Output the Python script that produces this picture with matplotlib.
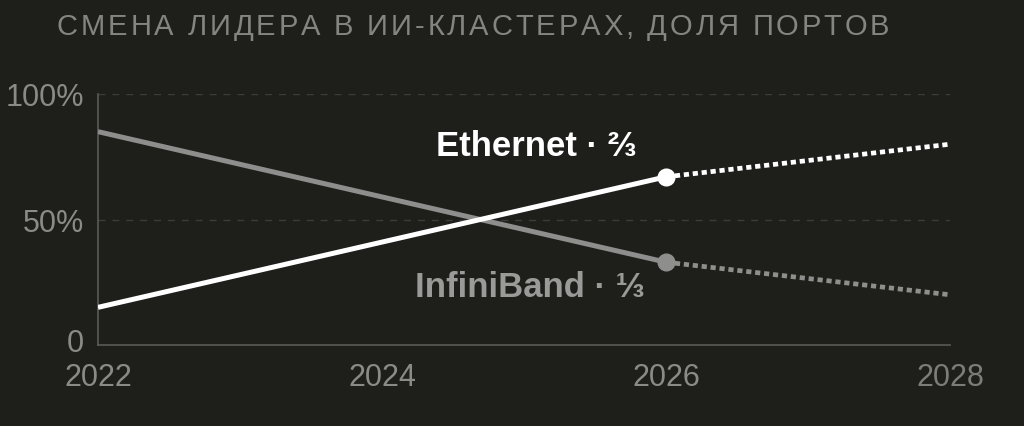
import matplotlib.pyplot as plt
from matplotlib.transforms import ScaledTranslation

years = [2022, 2026]
years_fc = [2026, 2028]
ethernet = [15, 67]
ethernet_fc = [67, 80]
infiniband = [85, 33]
infiniband_fc = [33, 20]

x_ticks = [2022, 2024, 2026, 2028]
y_ticks = [0, 50, 100]
y_labels = ["0", "50%", "100%"]

title = "СМЕНА ЛИДЕРА В ИИ-КЛАСТЕРАХ, ДОЛЯ ПОРТОВ"

BG = "#1e1e1b"
WHITE = "#ffffff"
GREY = "#8e8e8c"
TICK = "#8a8a86"

plt.rcParams["font.family"] = ["Liberation Sans", "DejaVu Sans"]

fig = plt.figure(figsize=(10.24, 4.27), dpi=100, facecolor=BG)
ax = fig.add_axes([98 / 1024, 1 - 346 / 427, (950 - 98) / 1024, (346 - 95) / 427])
ax.set_facecolor(BG)

ax.plot(years, infiniband, color=GREY, lw=3.6, solid_capstyle="butt", zorder=3)
ax.plot(years_fc, infiniband_fc, color=GREY, lw=3.4, dashes=(1.1, 0.8), zorder=3)
ax.plot(years[-1], infiniband[-1], "o", color=GREY, ms=12, zorder=4)

ax.plot(years, ethernet, color=WHITE, lw=3.6, solid_capstyle="butt", zorder=3)
ax.plot(years_fc, ethernet_fc, color=WHITE, lw=3.4, dashes=(1.1, 0.8), zorder=3)
ax.plot(years[-1], ethernet[-1], "o", color=WHITE, ms=12, zorder=5)

ax.set_xlim(2022, 2028)
ax.set_ylim(0, 100)
ax.set_xticks(x_ticks)
ax.set_yticks(y_ticks)
ax.set_yticklabels(y_labels)
ax.tick_params(length=0, labelsize=22, colors=TICK)
ax.tick_params(axis="x", pad=12)
ax.tick_params(axis="y", pad=10)
ax.get_xticklabels()[-1].set_color("#7c7c78")
zero = ax.get_yticklabels()[0]
zero.set_transform(zero.get_transform() + ScaledTranslation(0, 4 / 72, fig.dpi_scale_trans))

for y in [50, 100]:
    ax.axhline(y, color="#3c3c38", lw=1, ls=(0, (5, 5)), zorder=1)

for side in ["top", "right"]:
    ax.spines[side].set_visible(False)
for side in ["left", "bottom"]:
    ax.spines[side].set_color("#5a5a56")
    ax.spines[side].set_linewidth(1.2)

ax.text(2025.09, 79.5, "Ethernet · ⅔", color=WHITE, fontsize=25,
        fontweight="bold", ha="center", va="center")
ax.text(2025.04, 23.5, "InfiniBand · ⅓", color="#9a9a98", fontsize=25,
        fontweight="bold", ha="center", va="center")

# letter-spaced title, char by char
fig.canvas.draw()
r = fig.canvas.get_renderer()
x0 = 57
for ch in title:
    t = fig.text(x0 / 1024, 1 - 27 / 427, ch, color="#858580", fontsize=21,
                 ha="left", va="center")
    w = t.get_window_extent(renderer=r).width if ch != " " else 8
    x0 += w + 2.9

fig.savefig("out.png", facecolor=BG)
